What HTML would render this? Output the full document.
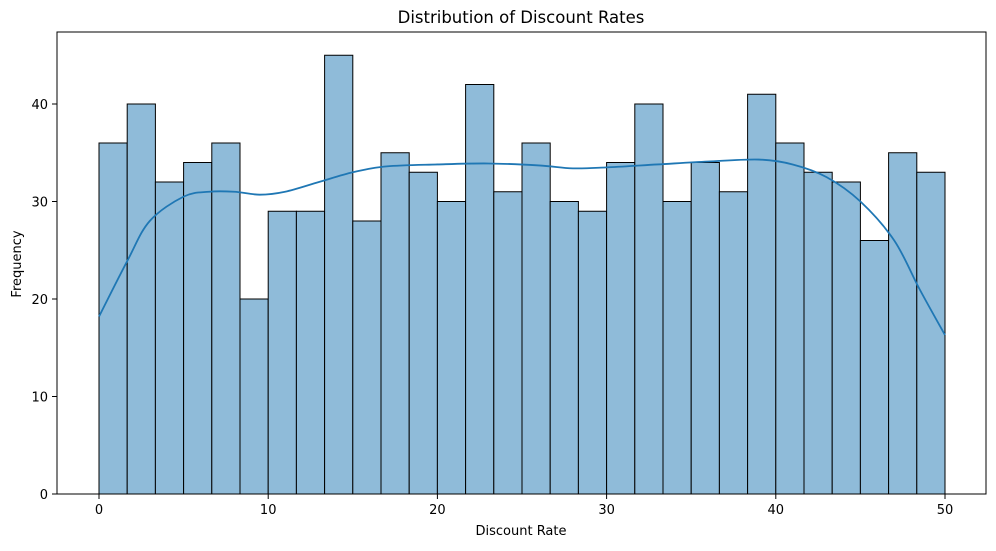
<!DOCTYPE html>
<html><head><meta charset="utf-8"><style>
body{margin:0;background:#fff;font-family:"DejaVu Sans","Liberation Sans",sans-serif;}
svg text{font-family:"DejaVu Sans","Liberation Sans",sans-serif;}
</style></head><body>
<svg id="chart" width="996" height="547" xmlns="http://www.w3.org/2000/svg">
<rect x="0" y="0" width="996" height="547" fill="#fff"/>
<g id="bars"></g>
<path id="kde" fill="none" stroke="#1f77b4" stroke-width="1.8"/>
<rect x="57" y="32" width="929" height="462" fill="none" stroke="#000" stroke-width="1"/>
<g id="xticks"></g>
<g id="yticks"></g>
<text x="521" y="23" text-anchor="middle" font-size="16.5">Distribution of Discount Rates</text>
<text x="521" y="535" text-anchor="middle" font-size="13">Discount Rate</text>
<text x="21" y="264" text-anchor="middle" font-size="13" transform="rotate(-90 21 264)">Frequency</text>
</svg>
<script>
const counts=[36,40,32,34,36,20,29,29,45,28,35,33,30,42,31,36,30,29,34,40,30,34,31,41,36,33,32,26,35,33];
const binStart=0, binEnd=50;
const kdeX=[0,1.7,3,5,6.5,8,9.5,11,13,15,17,20,23,26,28,30,33,36,39,41,43,45,47,48.5,50];
const kdeY=[18.2,24,28,30.5,31,31,30.7,31,32,33,33.6,33.8,33.9,33.7,33.4,33.5,33.8,34.1,34.3,33.8,32.5,30,26,21,16.3];
const xTicks=[0,10,20,30,40,50];
const yTicks=[0,10,20,30,40];
const NS="http://www.w3.org/2000/svg";
const sx=v=>99+v*(945-99)/50;
const sy=v=>494-v*9.75;
const bars=document.getElementById('bars');
const w=(binEnd-binStart)/counts.length;
counts.forEach((c,i)=>{
 const r=document.createElementNS(NS,'rect');
 const x0=sx(binStart+i*w),x1=sx(binStart+(i+1)*w);
 r.setAttribute('x',x0);r.setAttribute('y',sy(c));
 r.setAttribute('width',x1-x0);r.setAttribute('height',sy(0)-sy(c));
 r.setAttribute('fill','#8fbbd9');r.setAttribute('stroke','#000');r.setAttribute('stroke-width','1');
 
 
 bars.appendChild(r);
});
const pts=kdeX.map((x,i)=>[sx(x),sy(kdeY[i])]);
let d='M'+pts[0][0]+','+pts[0][1];
for(let i=0;i<pts.length-1;i++){
 const p0=pts[Math.max(0,i-1)],p1=pts[i],p2=pts[i+1],p3=pts[Math.min(pts.length-1,i+2)];
 const c1=[p1[0]+(p2[0]-p0[0])/6,p1[1]+(p2[1]-p0[1])/6];
 const c2=[p2[0]-(p3[0]-p1[0])/6,p2[1]-(p3[1]-p1[1])/6];
 d+=' C'+c1+' '+c2+' '+p2;
}
document.getElementById('kde').setAttribute('d',d);
const xg=document.getElementById('xticks');
xTicks.forEach(t=>{
 const l=document.createElementNS(NS,'line');
 l.setAttribute('x1',sx(t));l.setAttribute('x2',sx(t));l.setAttribute('y1',494);l.setAttribute('y2',499);l.setAttribute('stroke','#000');
 
 
 xg.appendChild(l);
 const tx=document.createElementNS(NS,'text');
 tx.setAttribute('x',sx(t));tx.setAttribute('y',514);tx.setAttribute('text-anchor','middle');tx.setAttribute('font-size','13');
 tx.textContent=t;
 
 
 xg.appendChild(tx);
});
const yg=document.getElementById('yticks');
yTicks.forEach(t=>{
 const l=document.createElementNS(NS,'line');
 l.setAttribute('x1',52);l.setAttribute('x2',57);l.setAttribute('y1',sy(t));l.setAttribute('y2',sy(t));l.setAttribute('stroke','#000');
 
 
 yg.appendChild(l);
 const tx=document.createElementNS(NS,'text');
 tx.setAttribute('x',48);tx.setAttribute('y',sy(t)+5);tx.setAttribute('text-anchor','end');tx.setAttribute('font-size','13');
 tx.textContent=t;
 
 
 yg.appendChild(tx);
});
</script>
</body></html>
